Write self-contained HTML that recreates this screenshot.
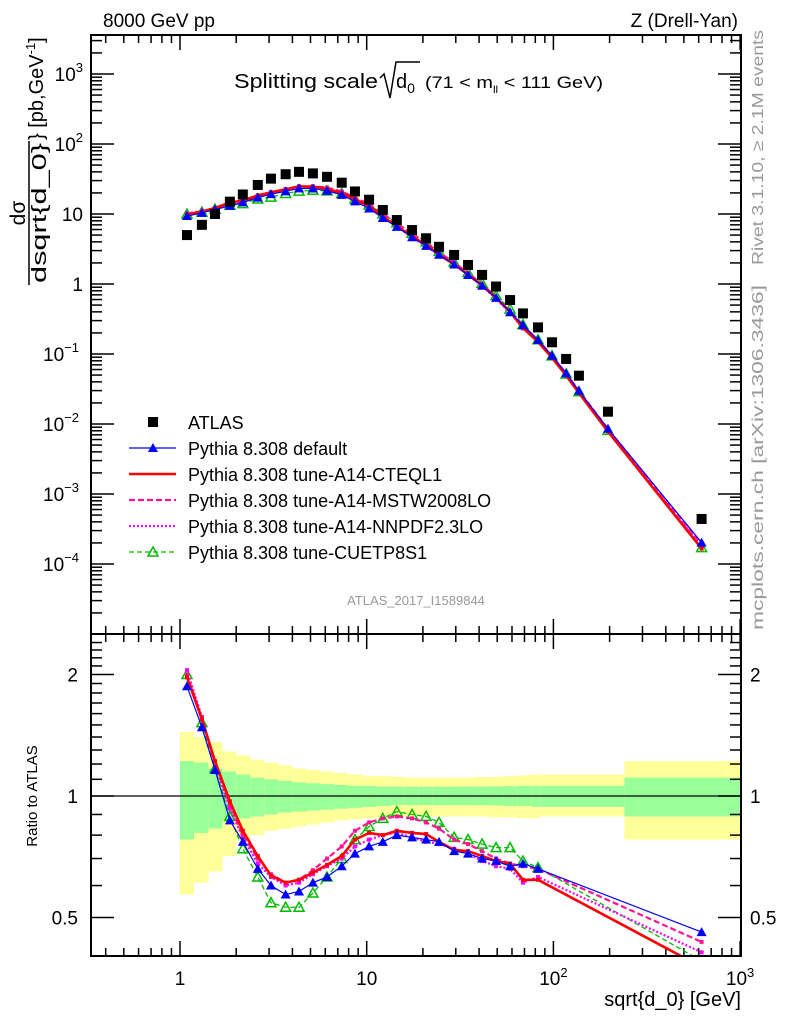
<!DOCTYPE html>
<html><head><meta charset="utf-8"><style>
body{margin:0;background:#fff}
svg{display:block;font-family:"Liberation Sans",sans-serif}
</style></head><body>
<svg id="chart" width="786" height="1024" viewBox="0 0 786 1024" xmlns="http://www.w3.org/2000/svg">
<rect width="786" height="1024" fill="#fff"/>
<g id="bands"></g>
<g id="ticks"></g>
<g id="series"></g>
<rect x="91" y="35" width="650" height="599" fill="none" stroke="#000" stroke-width="2"/>
<rect x="91" y="634" width="650" height="322" fill="none" stroke="#000" stroke-width="2"/>
<text x="103" y="27" font-size="19">8000 GeV pp</text>
<text x="738" y="27" font-size="19" text-anchor="end">Z (Drell-Yan)</text>
<g>
<text x="234" y="88" font-size="20" textLength="144" lengthAdjust="spacingAndGlyphs">Splitting scale</text>
<path d="M380 78 L384 74 L390 98 L396 62 L420 62" fill="none" stroke="#000" stroke-width="1.5"/>
<text x="396" y="88" font-size="20">d<tspan font-size="14" dy="5">0</tspan></text>
<text x="425" y="88" font-size="17" textLength="178" lengthAdjust="spacingAndGlyphs">(71 &lt; m<tspan font-size="10" dy="5">ll</tspan><tspan dy="-5"> &lt; 111 GeV)</tspan></text>
</g>
<text transform="translate(763,265) rotate(-90)" font-size="16" fill="#999" textLength="235" lengthAdjust="spacingAndGlyphs">Rivet 3.1.10, ≥ 2.1M events</text>
<text transform="translate(763,630) rotate(-90)" font-size="16" fill="#999" textLength="345" lengthAdjust="spacingAndGlyphs">mcplots.cern.ch [arXiv:1306.3436]</text>
<text x="416" y="605" font-size="13" fill="#999" text-anchor="middle">ATLAS_2017_I1589844</text>
<g transform="translate(30,213) rotate(-90)">
<text x="0" y="-5" font-size="21" text-anchor="middle">dσ</text>
<line x1="-72" y1="-1" x2="72" y2="-1" stroke="#000" stroke-width="1.5"/>
<text x="0" y="16" font-size="20" text-anchor="middle" textLength="140" lengthAdjust="spacingAndGlyphs">dsqrt{d_0}</text>
<text x="73" y="13" font-size="20">} [pb,GeV<tspan font-size="13" dy="-8">-1</tspan><tspan dy="8">]</tspan></text>
</g>
<text transform="translate(37,796) rotate(-90)" font-size="15" text-anchor="middle">Ratio to ATLAS</text>
<text x="741" y="1006" font-size="20" text-anchor="end">sqrt{d_0} [GeV]</text>
<g id="legend"></g>
</svg>
<script>
const xCenters=[1.09,1.31,1.54,1.85,2.17,2.61,3.07,3.68,4.34,5.15,6.13,7.35,8.65,10.3,12.2,14.5,17.5,20.8,24.4,29.4,34.9,41.5,49.3,58.6,68.7,82.7,98.3,117,137,196,622];
const inRatio=[1,1,1,1,1,1,1,1,1,1,1,1,1,1,1,1,1,1,1,1,1,1,1,1,1,1,0,0,0,0,1];
const atlas=[5.0,7.0,10,15,19,26,32,37,40,38,34,28,21,16,11.4,8.2,5.9,4.5,3.4,2.6,1.87,1.35,0.92,0.59,0.38,0.24,0.147,0.085,0.049,0.015,4.4e-4];
const ratioDefault=[1.87,1.48,1.16,0.87,0.77,0.66,0.60,0.57,0.58,0.61,0.63,0.67,0.72,0.75,0.77,0.80,0.79,0.78,0.77,0.73,0.72,0.70,0.69,0.67,0.68,0.66,0.645,0.625,0.61,0.57,0.46];
const ratioCTEQ=[1.97,1.55,1.22,0.97,0.82,0.71,0.635,0.61,0.62,0.646,0.675,0.71,0.78,0.81,0.80,0.82,0.81,0.805,0.77,0.735,0.73,0.71,0.69,0.68,0.62,0.62,0.60,0.58,0.565,0.52,0.377];
const ratioMSTW=[2.0,1.56,1.2,0.95,0.8,0.70,0.64,0.61,0.62,0.655,0.70,0.75,0.82,0.86,0.88,0.89,0.88,0.86,0.83,0.78,0.76,0.73,0.70,0.68,0.67,0.66,0.64,0.62,0.605,0.565,0.435];
const ratioNNPDF=[2.05,1.57,1.2,0.93,0.79,0.68,0.63,0.60,0.61,0.64,0.67,0.70,0.75,0.78,0.80,0.81,0.79,0.77,0.76,0.74,0.72,0.69,0.67,0.66,0.61,0.63,0.61,0.59,0.575,0.535,0.41];
const ratioCUETP=[2.0,1.52,1.17,0.89,0.74,0.63,0.544,0.53,0.53,0.575,0.63,0.70,0.78,0.84,0.88,0.915,0.90,0.89,0.86,0.79,0.78,0.76,0.745,0.745,0.69,0.665,0.64,0.61,0.59,0.54,0.39];
const bandEdges=[1,1.19,1.42,1.69,2.0,2.38,2.83,3.36,4.0,4.76,5.66,6.73,8.0,9.51,11.3,13.5,16,19,22.6,26.9,32,38,45.2,53.8,64,76.1,84,240,1000];
const yellowHi=[1.44,1.40,1.36,1.29,1.26,1.23,1.21,1.19,1.17,1.16,1.15,1.14,1.13,1.12,1.12,1.115,1.11,1.11,1.11,1.11,1.11,1.115,1.115,1.12,1.125,1.13,1.13,1.22];
const yellowLo=[0.57,0.61,0.65,0.71,0.78,0.80,0.82,0.83,0.84,0.85,0.86,0.87,0.875,0.88,0.885,0.89,0.89,0.89,0.89,0.89,0.89,0.89,0.885,0.885,0.88,0.88,0.89,0.78];
const greenHi=[1.22,1.21,1.17,1.15,1.13,1.11,1.10,1.09,1.08,1.075,1.07,1.065,1.06,1.06,1.055,1.055,1.054,1.054,1.054,1.054,1.055,1.055,1.056,1.058,1.06,1.06,1.06,1.11];
const greenLo=[0.78,0.81,0.83,0.87,0.88,0.89,0.90,0.91,0.915,0.92,0.925,0.93,0.935,0.94,0.945,0.95,0.95,0.95,0.95,0.95,0.95,0.95,0.948,0.945,0.945,0.94,0.94,0.89];
const mainTickExp=[-5,-4,-3,-2,-1,0,1,2,3];
const ratioMajor=[0.5,1,2];
const xMajor=[1,10,100,1000];

const NS='http://www.w3.org/2000/svg';
const X=v=>180+186.7*Math.log10(v);
const Y=v=>284-70*Math.log10(v);
const R=v=>796-121.5*Math.log2(v);
function mk(tag,attrs,parent){const e=document.createElementNS(NS,tag);for(const k in attrs)e.setAttribute(k,attrs[k]);parent.appendChild(e);return e;}
const bands=document.getElementById('bands'),ticks=document.getElementById('ticks'),series=document.getElementById('series'),legend=document.getElementById('legend');

for(let i=0;i<yellowHi.length;i++){
 const x1=X(bandEdges[i]),x2=Math.min(741,X(bandEdges[i+1]));
 const y=mk('rect',{x:x1,y:R(yellowHi[i]),width:x2-x1,height:R(yellowLo[i])-R(yellowHi[i]),fill:'#ffff99'},bands);
 
 
 const g=mk('rect',{x:x1,y:R(greenHi[i]),width:x2-x1,height:R(greenLo[i])-R(greenHi[i]),fill:'#99ff99'},bands);
 
 
}
const ul=mk('line',{x1:91,x2:741,y1:R(1),y2:R(1),stroke:'#000','stroke-width':1.2},bands);



function xt(v,len){
 [[35,35+len],[634,634-len],[634,634+len],[956,956-len]].forEach(p=>{mk('line',{x1:X(v),x2:X(v),y1:p[0],y2:p[1],stroke:'#000','stroke-width':1.5},ticks);});
}
for(let d=-1;d<3;d++)for(let m=1;m<10;m++){const v=m*Math.pow(10,d);if(X(v)<91||X(v)>741)continue;xt(v,m===1?15:8);}
xt(1000,15);
const xLab=['1','10','10','10'],xSup=['','','2','3'];
xMajor.forEach((v,i)=>{const t=mk('text',{x:X(v),y:985,'font-size':19,'text-anchor':'middle'},ticks);t.textContent=xLab[i];
 if(xSup[i]){const s=mk('tspan',{'font-size':13,dy:-8},t);s.textContent=xSup[i];}
 
 });
mainTickExp.forEach(e=>{
 for(let m=1;m<10;m++){const v=m*Math.pow(10,e);const y=Y(v);if(y<36||y>633)continue;const L=m===1?23:11;
  mk('line',{x1:91,x2:91+L,y1:y,y2:y,stroke:'#000','stroke-width':1.5},ticks);
  mk('line',{x1:741,x2:741-L,y1:y,y2:y,stroke:'#000','stroke-width':1.5},ticks);}
 if(e<-4)return;
 const t=mk('text',{x:e<0?79:83,y:Y(Math.pow(10,e))+7,'font-size':19,'text-anchor':'end'},ticks);
 
 
 if(e===0)t.textContent='1';else if(e===1)t.textContent='10';
 else{t.textContent='10';const s=mk('tspan',{'font-size':13,dy:-9},t);s.textContent=e<0?'\u2212'+(-e):String(e);}
});
for(let k=4;k<=25;k++){const v=k/10;const y=R(v);if(y<636||y>955)continue;const maj=ratioMajor.includes(v);const L=maj?23:11;
 mk('line',{x1:91,x2:91+L,y1:y,y2:y,stroke:'#000','stroke-width':1.5},ticks);
 mk('line',{x1:741,x2:741-L,y1:y,y2:y,stroke:'#000','stroke-width':1.5},ticks);}
ratioMajor.forEach(v=>{[[78,'end'],[750,'start']].forEach(p=>{const t=mk('text',{x:p[0],y:R(v)+7,'font-size':19,'text-anchor':p[1]},ticks);t.textContent=String(v);
 
 });});

const styles=[
 {name:'default',r:ratioDefault,c:'#0000ff',w:1.2,d:'',mk:'tri'},
 {name:'cteql1',r:ratioCTEQ,c:'#ff0000',w:2.6,d:'',mk:'sq'},
 {name:'mstw2008lo',r:ratioMSTW,c:'#ff1493',w:2.2,d:'6,3',mk:'sq'},
 {name:'nnpdf23lo',r:ratioNNPDF,c:'#ff00ff',w:2.2,d:'2,2',mk:'sq'},
 {name:'cuetp8s1',r:ratioCUETP,c:'#00bb00',w:1.3,d:'5,3',mk:'otri'}];
function marker(type,x,y,c,parent){
 if(type==='tri')return mk('path',{d:`M${x-5} ${y+4}L${x+5} ${y+4}L${x} ${y-5}Z`,fill:c},parent);
 if(type==='otri')return mk('path',{d:`M${x-5} ${y+4}L${x+5} ${y+4}L${x} ${y-5}Z`,fill:'none',stroke:c,'stroke-width':1.5},parent);
 return mk('rect',{x:x-2,y:y-2,width:4,height:4,fill:c},parent);
}
styles.slice().reverse().forEach(s=>{
 const g=mk('g',{},series);
 
 
 const mp=xCenters.map((x,i)=>X(x)+','+Y(atlas[i]*s.r[i])).join(' ');
 const l1=mk('polyline',{points:mp,fill:'none',stroke:s.c,'stroke-width':s.w,'stroke-dasharray':s.d},g);
 
 
 const rp=xCenters.map((x,i)=>inRatio[i]?X(x)+','+R(s.r[i]):null).filter(p=>p).join(' ');
 const cp=mk('clipPath',{id:'rc'+s.name},g);mk('rect',{x:91,y:634,width:650,height:322},cp);
 const l2=mk('polyline',{points:rp,fill:'none',stroke:s.c,'stroke-width':s.w,'stroke-dasharray':s.d,'clip-path':'url(#rc'+s.name+')'},g);
 
 
 xCenters.forEach((x,i)=>{
  const m1=marker(s.mk,X(x),Y(atlas[i]*s.r[i]),s.c,g);
  
  
  const ry=R(s.r[i]);if(inRatio[i]&&ry<955&&ry>635){const m2=marker(s.mk,X(x),ry,s.c,g);
  
  }
 });
});
xCenters.forEach((x,i)=>{const r=mk('rect',{x:X(x)-5,y:Y(atlas[i])-5,width:10,height:10,fill:'#000'},series);
 
 });

const legLabels=['ATLAS','Pythia 8.308 default','Pythia 8.308 tune-A14-CTEQL1','Pythia 8.308 tune-A14-MSTW2008LO','Pythia 8.308 tune-A14-NNPDF2.3LO','Pythia 8.308 tune-CUETP8S1'];
legLabels.forEach((lab,i)=>{
 const y=422+26*i;
 const g=mk('g',{},legend);
 
 
 if(i===0)mk('rect',{x:148,y:y-5,width:10,height:10,fill:'#000'},g);
 else{const s=styles[i-1];mk('line',{x1:129,x2:176,y1:y,y2:y,stroke:s.c,'stroke-width':s.w,'stroke-dasharray':s.d},g);
  if(s.mk==='tri'||s.mk==='otri')marker(s.mk,153,y,s.c,g);}
 const t=mk('text',{x:188,y:y+7,'font-size':18},g);t.textContent=lab;
});
</script>
</body></html>
